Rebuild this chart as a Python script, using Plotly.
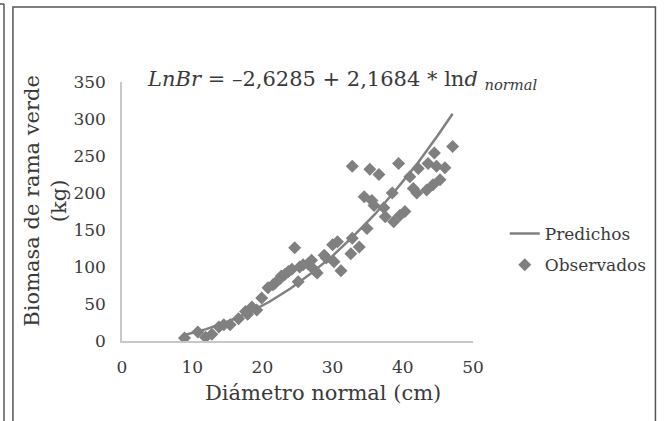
import plotly.graph_objects as go

obs_diam = [8.9, 10.8, 11.9, 12.8, 13.8, 14.5, 15.4, 16.6, 17.6, 17.9, 18.5, 19.2,
            19.9, 20.8, 21.5, 21.8, 22.5, 22.7, 23.2, 23.7, 24.2, 24.6, 25.1, 25.3,
            25.8, 26.5, 27.0, 27.4, 27.8, 28.8, 29.1, 30.0, 30.2, 30.7, 31.2, 32.6,
            32.8, 32.8, 33.8, 34.5, 34.9, 35.3, 35.6, 35.9, 36.6, 37.3, 37.5, 38.5,
            38.7, 39.4, 39.6, 40.3, 41.0, 41.5, 42.0, 42.2, 43.4, 43.6, 44.3, 44.5,
            44.8, 45.3, 46.0, 47.1]
obs_biomass = [4, 12, 5, 9, 19, 22, 22, 30, 40, 36, 46, 42,
               58, 72, 76, 78, 84, 88, 90, 94, 97, 126, 80, 100,
               103, 104, 109, 96, 92, 116, 112, 130, 107, 134, 95, 118,
               139, 236, 127, 195, 152, 232, 190, 183, 225, 180, 168, 200,
               161, 240, 170, 175, 222, 206, 200, 233, 204, 240, 211, 254,
               236, 218, 234, 263]

# Predicted curve as drawn
pred_diam = [8.9, 12, 15, 18, 21, 24, 27, 30, 33, 36, 39, 42, 45, 47.1]
pred_biomass = [8, 16, 26, 38, 53, 71, 92, 115, 142, 171, 204, 239, 278, 307]

x_ticks = [0, 10, 20, 30, 40, 50]
y_ticks = [0, 50, 100, 150, 200, 250, 300, 350]

FONT = "DejaVu Serif, serif"
TEXT = "#3a3a3a"
GRAY = "#808080"

# plot area in pixels
L, R, T, B = 122, 476, 82, 341
PW, PH = R - L, B - T


def px_x(p):
    return (p - L) / PW


def px_y(p):
    return (B - p) / PH


fig = go.Figure()
fig.add_trace(go.Scatter(
    x=pred_diam, y=pred_biomass, mode="lines", name="Predichos",
    line=dict(color=GRAY, width=2.5), legendgroup="a",
))
fig.add_trace(go.Scatter(
    x=obs_diam, y=obs_biomass, mode="markers", name="Observados",
    marker=dict(symbol="diamond", size=10, color=GRAY), legendgroup="b",
))

fig.add_annotation(
    x=px_x(145), y=px_y(80), xref="paper", yref="paper",
    xanchor="left", yanchor="middle", showarrow=False,
    text="<i>LnBr</i> = –2,6285 + 2,1684 * ln<i>d</i> <sub><i>normal</i></sub>",
    font=dict(family=FONT, size=21, color=TEXT),
)
fig.add_annotation(
    x=px_x(44), y=px_y(201), xref="paper", yref="paper",
    xanchor="center", yanchor="middle", showarrow=False, textangle=-90,
    text="Biomasa de rama verde<br>(kg)",
    font=dict(family=FONT, size=21, color=TEXT),
)
fig.add_annotation(
    x=px_x(325), y=px_y(393), xref="paper", yref="paper",
    xanchor="center", yanchor="middle", showarrow=False,
    text="Diámetro normal (cm)",
    font=dict(family=FONT, size=21, color=TEXT),
)

# page frame lines
frame = dict(color="#555555", width=1.5)
fig.add_shape(type="line", xref="paper", yref="paper",
              x0=px_x(3), x1=px_x(3), y0=px_y(4), y1=px_y(430), line=frame)
fig.add_shape(type="line", xref="paper", yref="paper",
              x0=px_x(-5), x1=px_x(3), y0=px_y(4), y1=px_y(4), line=frame)
fig.add_shape(type="rect", xref="paper", yref="paper",
              x0=px_x(12), x1=px_x(660), y0=px_y(7), y1=px_y(430), line=frame)

fig.update_xaxes(
    range=[0, 50], tickvals=x_ticks, showgrid=False, zeroline=False,
    showline=True, linecolor="#c8c8c8", linewidth=1.5, ticks="",
    ticklabelstandoff=10, tickfont=dict(family=FONT, size=17, color=TEXT),
)
fig.update_yaxes(
    range=[0, 350], tickvals=y_ticks, showgrid=False, zeroline=False,
    showline=True, linecolor="#c8c8c8", linewidth=1.5, ticks="",
    ticklabelstandoff=11, tickfont=dict(family=FONT, size=17, color=TEXT),
)
fig.update_layout(
    width=664, height=421,
    margin=dict(l=L, r=664 - R, t=T, b=421 - B),
    paper_bgcolor="white", plot_bgcolor="white",
    legend=dict(x=px_x(508), y=px_y(216), xanchor="left", yanchor="top",
                tracegroupgap=6, traceorder="grouped",
                font=dict(family=FONT, size=17, color=TEXT),
                bgcolor="rgba(0,0,0,0)"),
)
# drop the browser's default body margin so the figure sits at the page corner
fig.write_html("out.html", config={"displayModeBar": False},
               post_script="document.body.style.margin='0';")
